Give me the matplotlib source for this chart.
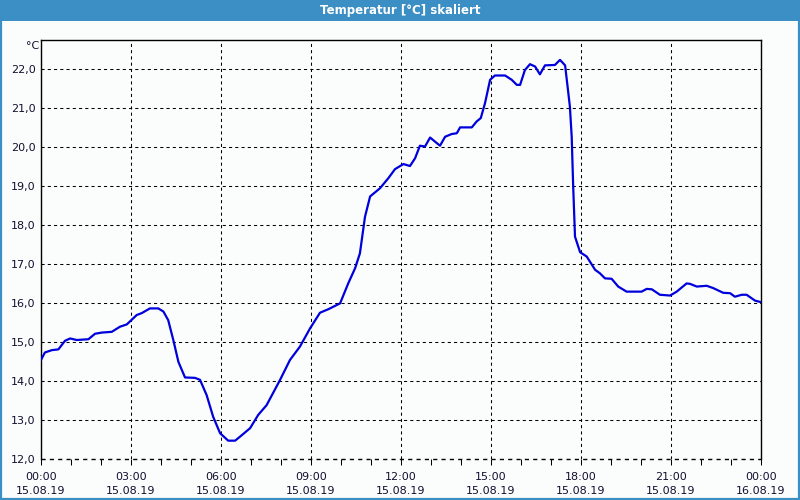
import matplotlib
matplotlib.use("Agg")
import matplotlib.pyplot as plt
from matplotlib.patches import Rectangle
from matplotlib.ticker import MultipleLocator

# hours since 15.08.19 00:00
hours = [0.0, 0.13, 0.36, 0.58, 0.8, 0.97, 1.19, 1.58, 1.8, 2.02, 2.36, 2.63, 2.86,
         3.19, 3.36, 3.63, 3.91, 4.08, 4.24, 4.41, 4.58, 4.8, 5.13, 5.3, 5.52, 5.74,
         5.97, 6.24, 6.47, 6.63, 6.97, 7.24, 7.52, 7.97, 8.3, 8.63, 8.97, 9.3, 9.58,
         9.97, 10.24, 10.47, 10.63, 10.8, 10.97, 11.3, 11.58, 11.8, 12.08, 12.3,
         12.47, 12.63, 12.8, 12.97, 13.3, 13.47, 13.69, 13.86, 13.97, 14.36, 14.52,
         14.66, 14.8, 14.97, 15.13, 15.47, 15.69, 15.86, 15.97, 16.13, 16.3, 16.47,
         16.63, 16.8, 17.13, 17.3, 17.47, 17.54, 17.63, 17.69, 17.74, 17.8, 17.97,
         18.19, 18.47, 18.63, 18.8, 19.02, 19.24, 19.52, 20.02, 20.19, 20.36, 20.63,
         20.97, 21.19, 21.52, 21.63, 21.86, 22.19, 22.41, 22.74, 22.97, 23.13, 23.36,
         23.52, 23.8, 24.0]
temps = [14.54, 14.73, 14.79, 14.81, 15.03, 15.09, 15.05, 15.07, 15.21, 15.24, 15.26,
         15.39, 15.45, 15.69, 15.74, 15.86, 15.86, 15.78, 15.56, 15.05, 14.49, 14.09,
         14.08, 14.03, 13.64, 13.08, 12.66, 12.47, 12.47, 12.57, 12.79, 13.13, 13.38,
         14.03, 14.54, 14.88, 15.35, 15.75, 15.84, 15.99, 16.50, 16.89, 17.27, 18.21,
         18.73, 18.94, 19.2, 19.43, 19.56, 19.51, 19.71, 20.03, 20.01, 20.24, 20.03,
         20.26, 20.33, 20.35, 20.5, 20.5, 20.65, 20.74, 21.12, 21.72, 21.83, 21.83,
         21.72, 21.59, 21.59, 21.97, 22.12, 22.06, 21.86, 22.09, 22.10, 22.23, 22.09,
         21.63, 21.03, 20.26, 18.98, 17.70, 17.30, 17.19, 16.85, 16.76, 16.63, 16.62,
         16.42, 16.29, 16.29, 16.36, 16.35, 16.21, 16.19, 16.29, 16.50, 16.49, 16.42,
         16.44, 16.38, 16.26, 16.25, 16.16, 16.21, 16.21, 16.06, 16.02]

x_ticks = [0, 3, 6, 9, 12, 15, 18, 21, 24]
x_labels = ["00:00\n15.08.19", "03:00\n15.08.19", "06:00\n15.08.19", "09:00\n15.08.19",
            "12:00\n15.08.19", "15:00\n15.08.19", "18:00\n15.08.19", "21:00\n15.08.19",
            "00:00\n16.08.19"]
y_ticks = [12, 13, 14, 15, 16, 17, 18, 19, 20, 21, 22]
y_labels = ["12,0", "13,0", "14,0", "15,0", "16,0", "17,0", "18,0", "19,0", "20,0",
            "21,0", "22,0"]

bg = "#fbfdfc"
bar = "#3c8fc4"
txt = "#101030"
dash = (0, (3, 3))

fig = plt.figure(figsize=(8, 5), dpi=100, facecolor=bg)

# title bar and window border
fig.patches.append(Rectangle((0, 0.958), 1, 0.042, transform=fig.transFigure,
                             facecolor=bar, edgecolor="none", zorder=0))
fig.patches.append(Rectangle((0.001, 0.002), 0.998, 0.996, transform=fig.transFigure,
                             facecolor="none", edgecolor=bar, linewidth=1.6, zorder=0))
fig.text(0.5, 0.979, "Temperatur [°C] skaliert", color="white", fontsize=8.5,
         fontweight="bold", ha="center", va="center")

ax = fig.add_axes([41 / 800, 41 / 500, 720 / 800, 419 / 500])
ax.set_facecolor(bg)
ax.plot(hours, temps, color="#0000dd", linewidth=1.6, zorder=3)

ax.set_xlim(0, 24)
ax.set_ylim(12, 22.74)
ax.set_xticks(x_ticks)
ax.set_xticklabels(x_labels)
ax.xaxis.set_minor_locator(MultipleLocator(1))
ax.set_yticks(y_ticks)
ax.set_yticklabels(y_labels)

ax.grid(True, color="black", linestyle=dash, linewidth=0.75)
# dashed base line at 12,0 instead of a solid bottom spine
ax.axhline(12, color="black", linestyle=dash, linewidth=1.0, clip_on=False, zorder=2)
ax.spines["bottom"].set_visible(False)
for s in ["left", "top", "right"]:
    ax.spines[s].set_linewidth(1.0)
    ax.spines[s].set_color("black")

ax.tick_params(axis="x", which="both", direction="out", length=4, width=0.75,
               labelsize=8, labelcolor=txt, pad=5)
ax.tick_params(axis="y", length=0, labelsize=8, labelcolor=txt, pad=4)
for lbl in ax.get_xticklabels():
    lbl.set_linespacing(1.6)

fig.text(33 / 800, 1 - 46 / 500, "°C", fontsize=8, color=txt, ha="center", va="center")

fig.savefig("out.png", dpi=100, facecolor=bg)
